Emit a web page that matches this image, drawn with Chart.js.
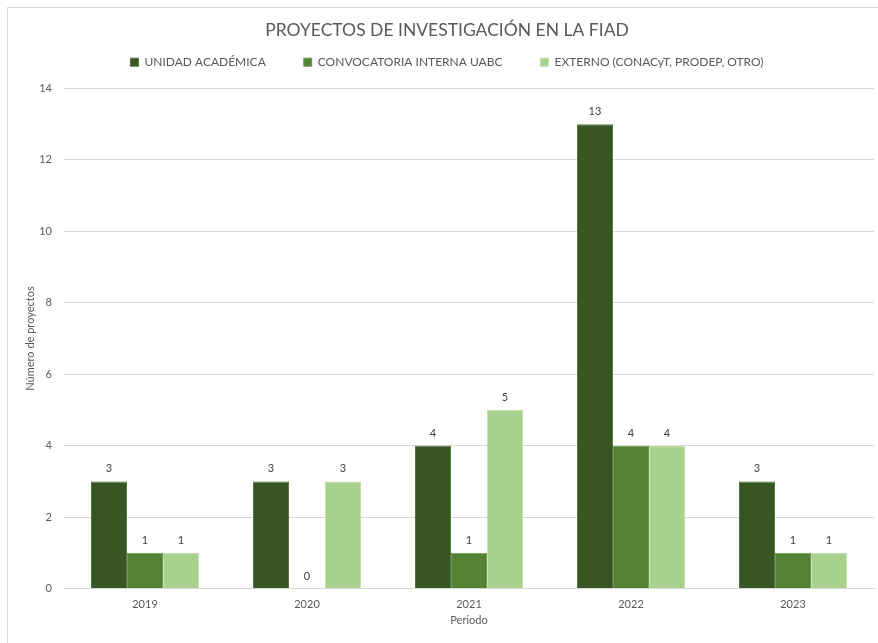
<!DOCTYPE html>
<html lang="es">
<head>
  <meta charset="UTF-8">
  <title>Proyectos de investigación en la FIAD</title>
  <script src="https://cdn.jsdelivr.net/npm/chart.js"></script>
  <style>
    body { margin: 0; background: #fff; }
    #wrap { position: relative; width: 878px; height: 643px; }
    #frame {
      position: absolute; left: 7px; top: 7px; right: 0; bottom: 0;
      border-top: 1px solid #d9d9d9; border-left: 1px solid #d9d9d9;
      pointer-events: none;
    }
  </style>
</head>
<body>
  <div id="wrap">
    <canvas id="chart" width="878" height="643"></canvas>
    <div id="frame"></div>
  </div>
  <script>
    const periodos = ['2019', '2020', '2021', '2022', '2023'];
    const unidadAcademica = [3, 3, 4, 13, 3];
    const convocatoriaInterna = [1, 0, 1, 4, 1];
    const externo = [1, 3, 5, 4, 1];
    const yTicks = [0, 2, 4, 6, 8, 10, 12, 14];

    const font = 'Lato, "Open Sans", sans-serif';
    const gray = '#595959';

    // draws the value above each bar
    const valueLabels = {
      id: 'valueLabels',
      afterDatasetsDraw(chart) {
        const ctx = chart.ctx;
        ctx.save();
        ctx.fillStyle = '#404040';
        ctx.font = '11px ' + font;
        ctx.textAlign = 'center';
        ctx.textBaseline = 'bottom';
        chart.data.datasets.forEach((ds, i) => {
          chart.getDatasetMeta(i).data.forEach((bar, j) => {
            ctx.fillText(ds.data[j], bar.x, bar.y - 7);
          });
        });
        ctx.restore();
      }
    };

    new Chart(document.getElementById('chart'), {
      type: 'bar',
      data: {
        labels: periodos,
        datasets: [
          { label: 'UNIDAD ACADÉMICA', data: unidadAcademica, backgroundColor: '#375623', borderColor: '#56733f' },
          { label: 'CONVOCATORIA INTERNA UABC', data: convocatoriaInterna, backgroundColor: '#548235', borderColor: '#6f9a52' },
          { label: 'EXTERNO (CONACyT, PRODEP, OTRO)', data: externo, backgroundColor: '#a9d18e', borderColor: '#c3e2ad' }
        ]
      },
      options: {
        responsive: false,
        animation: false,
        layout: { padding: { left: 20, right: 4, top: 10, bottom: 12 } },
        datasets: {
          bar: {
            barPercentage: 1,
            categoryPercentage: 0.667,
            borderWidth: 1
          }
        },
        scales: {
          x: {
            grid: { display: false },
            border: { color: '#d9d9d9' },
            ticks: { color: gray, font: { family: font, size: 11 }, padding: 1 },
            title: { display: true, text: 'Periodo', color: gray, font: { family: font, size: 11 }, padding: { top: 2, bottom: 4 } }
          },
          y: {
            min: 0, max: 14,
            afterBuildTicks(scale) { scale.ticks = yTicks.map(v => ({ value: v })); },
            afterFit(scale) { scale.width = 44; },
            grid: { color: '#d9d9d9', drawTicks: false },
            border: { display: false },
            ticks: { color: gray, font: { family: font, size: 11 }, padding: 12 },
            title: { display: true, text: 'Número de proyectos', color: gray, font: { family: font, size: 11 } }
          }
        },
        plugins: {
          title: {
            display: true,
            text: 'PROYECTOS DE INVESTIGACIÓN EN LA FIAD',
            color: gray,
            font: { family: font, size: 17.5, weight: 'normal' },
            padding: { top: 10, bottom: -22.8 }
          },
          // empty subtitle used as a spacer between legend and plot
          subtitle: {
            display: true,
            text: '',
            font: { size: 1 },
            padding: { top: 0, bottom: 9 }
          },
          legend: {
            weight: 1800,
            labels: {
              color: gray,
              font: { family: font, size: 12 },
              boxWidth: 8, boxHeight: 8,
              padding: 38
            }
          },
          tooltip: { enabled: false }
        }
      },
      plugins: [valueLabels]
    });
  </script>
</body>
</html>
